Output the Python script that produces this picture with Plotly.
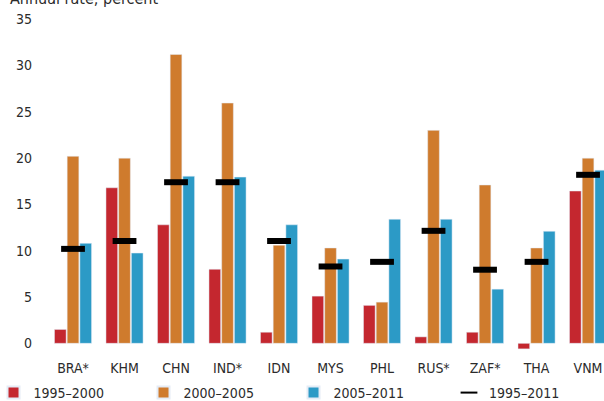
import plotly.graph_objects as go

countries = ["BRA*", "KHM", "CHN", "IND*", "IDN", "MYS", "PHL", "RUS*", "ZAF*", "THA", "VNM"]
r1995_2000 = [1.5, 16.8, 12.8, 8.0, 1.2, 5.1, 4.1, 0.7, 1.2, -0.6, 16.45]
r2000_2005 = [20.2, 20.0, 31.2, 25.95, 10.6, 10.3, 4.45, 23.0, 17.1, 10.3, 20.0]
r2005_2011 = [10.8, 9.75, 18.05, 17.95, 12.8, 9.1, 13.4, 13.4, 5.85, 12.1, 18.7]
r1995_2011 = [10.2, 11.05, 17.4, 17.4, 11.05, 8.3, 8.8, 12.15, 7.95, 8.8, 18.2]
yticks = [0, 5, 10, 15, 20, 25, 30, 35]

FONT = "DejaVu Sans Condensed, DejaVu Sans, sans-serif"
TXT = "#2b2b2b"

fig = go.Figure()
fig.add_trace(go.Bar(x=countries, y=r1995_2000, name="1995–2000", marker_color="#c4272f"))
fig.add_trace(go.Bar(x=countries, y=r2000_2005, name="2000–2005", marker_color="#cf7b2d"))
fig.add_trace(go.Bar(x=countries, y=r2005_2011, name="2005–2011", marker_color="#2c9ac6"))
fig.add_trace(go.Scatter(x=countries, y=r1995_2011, name="1995–2011", mode="markers",
                         legend="legend2",
                         marker=dict(symbol="line-ew", size=17, color="black",
                                     line=dict(width=6, color="black"))))

legend_common = dict(orientation="h", yanchor="middle", y=-0.1287, xanchor="left",
                     font=dict(size=14), itemsizing="constant", traceorder="normal",
                     bgcolor="rgba(0,0,0,0)", borderwidth=0)

fig.update_layout(
    width=604, height=401,
    margin=dict(l=45, r=0, t=16, b=51, autoexpand=False),
    paper_bgcolor="white", plot_bgcolor="white",
    font=dict(family=FONT, size=14, color=TXT),
    barmode="group", bargap=0.26, bargroupgap=0.08,
    showlegend=True,
    legend=dict(x=-0.0921, entrywidth=105, entrywidthmode="pixels", **legend_common),
    legend2=dict(x=0.7227, **legend_common),
    xaxis=dict(range=[-0.544, 10.31], showgrid=False, zeroline=False, showline=False,
               ticks="", ticklabelstandoff=8, tickfont=dict(size=14), automargin=False),
    yaxis=dict(range=[-0.72, 35.35], tickvals=yticks, showgrid=False, zeroline=False,
               showline=False, ticks="", ticklabelstandoff=12, tickfont=dict(size=14),
               automargin=False),
    annotations=[dict(text="Annual rate, percent", xref="paper", yref="paper",
                      x=-0.066, xanchor="left", y=1.052, yanchor="middle",
                      showarrow=False, font=dict(size=16, color=TXT))],
)

fig.write_html("out.html", config={"displayModeBar": False},
               post_script="document.body.style.margin='0';document.body.style.padding='0';")
